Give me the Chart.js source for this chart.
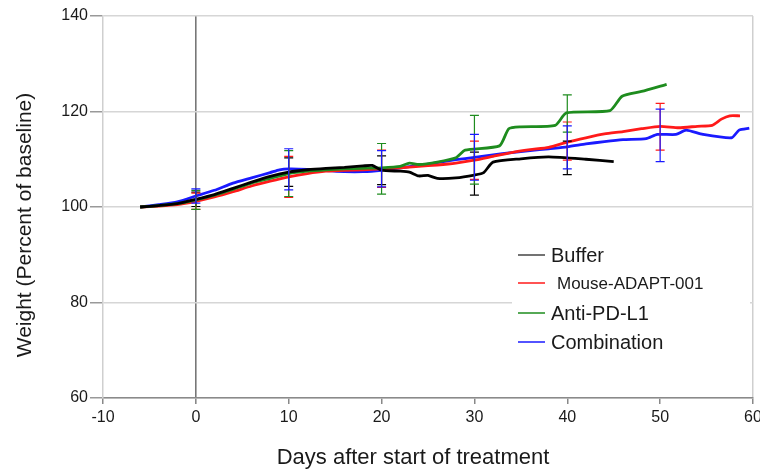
<!DOCTYPE html>
<html lang="en">
<head>
  <meta charset="UTF-8">
  <title>Weight after start of treatment</title>
  <script src="https://cdn.jsdelivr.net/npm/chart.js"></script>
  <style>
    html, body { margin: 0; padding: 0; background: #fff; }
    #wrap { width: 760px; height: 469px; }
  </style>
</head>
<body>
<div id="wrap"><canvas id="chart" width="760" height="469"></canvas></div>

<script>
// series data (days after start of treatment, weight in % of baseline)
const bufferDays   = [-6, -4, -2, 0, 2, 4, 6, 8, 10, 12, 14, 16, 18, 19, 20, 22, 23, 24, 25, 26, 28, 30, 31, 32, 35, 38, 42, 45];
const bufferValues = [100, 100.3, 100.7, 101.6, 102.6, 103.9, 105.2, 106.4, 107.3, 107.8, 108.1, 108.3, 108.6, 108.7, 107.7, 107.5, 107.3, 106.5, 106.6, 106.0, 106.1, 106.7, 107.2, 109.4, 110.1, 110.5, 110.0, 109.5];

const adaptDays   = [-6, -4, -2, 0, 2, 4, 6, 8, 10, 12, 14, 16, 18, 20, 22, 24, 26, 28, 30, 32, 34, 36, 38, 40, 42, 44, 46, 48, 50, 52, 54, 55.6, 56.6, 57.5, 58.6];
const adaptValues = [100, 100.2, 100.5, 101.2, 102.1, 103.2, 104.4, 105.4, 106.3, 107.0, 107.5, 107.7, 107.8, 108.0, 108.2, 108.5, 108.8, 109.2, 109.8, 110.6, 111.4, 112.0, 112.5, 113.6, 114.5, 115.3, 115.8, 116.4, 116.9, 116.6, 116.9, 117.1, 118.4, 119.1, 119.1];

const pdl1Days   = [-6, -4, -2, 0, 2, 4, 6, 8, 10, 12, 14, 16, 18, 20, 22, 23, 24, 26, 28, 29, 32.7, 33.7, 35, 38.7, 39.9, 44.6, 45.9, 48, 50.7];
const pdl1Values = [100, 100.3, 100.7, 101.5, 102.5, 103.7, 105.0, 106.0, 107.0, 107.5, 107.8, 108.0, 108.1, 108.2, 108.5, 109.2, 108.9, 109.4, 110.3, 111.9, 112.8, 116.4, 116.8, 117.1, 119.7, 120.2, 123.2, 124.2, 125.7];

const comboDays   = [-6, -4, -2, 0, 2, 4, 6, 8, 9, 10, 12, 14, 16, 18, 20, 22, 24, 26, 28, 30, 32, 34, 36, 38, 40, 42, 44, 46, 48.5, 49.7, 51.7, 52.8, 54.6, 57.7, 58.5, 59.6];
const comboValues = [100, 100.5, 101.1, 102.3, 103.5, 105.0, 106.1, 107.2, 107.8, 108.0, 107.9, 107.6, 107.4, 107.4, 107.7, 108.2, 108.7, 109.3, 109.9, 110.4, 110.9, 111.4, 111.8, 112.2, 112.6, 113.2, 113.7, 114.1, 114.3, 115.2, 115.2, 116.1, 115.2, 114.5, 116.1, 116.5];

// error bars: day, centre and half-width
const bufferErrDays = [0, 10, 20, 30, 40];
const bufferErrMean = [101.6, 107.3, 107.7, 107.0, 110.3];
const bufferErr     = [1.5, 3.0, 3.0, 4.5, 3.5];

const adaptErrDays = [0, 10, 20, 30, 40, 50];
const adaptErrMean = [101.2, 106.3, 108.0, 109.8, 113.8, 116.8];
const adaptErr     = [1.7, 4.3, 3.9, 4.0, 4.0, 4.9];

const pdl1ErrDays = [0, 10, 20, 30, 40];
const pdl1ErrMean = [101.5, 107.0, 108.0, 112.0, 119.6];
const pdl1Err     = [2.0, 4.8, 5.3, 7.2, 3.9];

const comboErrDays = [0, 10, 20, 30, 40, 50];
const comboErrMean = [102.3, 107.9, 108.0, 110.4, 112.5, 115.0];
const comboErr     = [1.5, 4.3, 3.8, 4.8, 4.5, 5.5];

const seriesLabels = ['Buffer', 'Mouse-ADAPT-001', 'Anti-PD-L1', 'Combination'];
const seriesColors = ['#000000', '#ff1a1a', '#1e8c1e', '#1a1aff'];
const legendColors = ['#444444', '#ff1a1a', '#1e8c1e', '#1a1aff'];
const xTitle = 'Days after start of treatment';
const yTitle = 'Weight (Percent of baseline)';

const FONT = "'Liberation Sans', Arial, sans-serif";
const TEXT = '#1a1a1a';

function pts(days, vals) { return days.map((d, i) => ({ x: d, y: vals[i] })); }

const errSets = [
  [bufferErrDays, bufferErrMean, bufferErr],
  [adaptErrDays, adaptErrMean, adaptErr],
  [pdl1ErrDays, pdl1ErrMean, pdl1Err],
  [comboErrDays, comboErrMean, comboErr]
];

// vertical error bars with caps, drawn through the chart scales
const errorBars = {
  id: 'errorBars',
  afterDatasetsDraw(chart) {
    const { ctx, scales: { x, y } } = chart;
    ctx.save();
    ctx.lineWidth = 1.2;
    errSets.forEach((s, k) => {
      ctx.strokeStyle = seriesColors[k];
      s[0].forEach((d, i) => {
        const px = x.getPixelForValue(d);
        const top = y.getPixelForValue(s[1][i] + s[2][i]);
        const bot = y.getPixelForValue(s[1][i] - s[2][i]);
        ctx.beginPath();
        ctx.moveTo(px, top); ctx.lineTo(px, bot);
        ctx.moveTo(px - 4.5, top); ctx.lineTo(px + 4.5, top);
        ctx.moveTo(px - 4.5, bot); ctx.lineTo(px + 4.5, bot);
        ctx.stroke();
      });
    });
    ctx.restore();
  }
};

// legend box inside the plot, and the two axis titles (set off-centre like the original)
const extras = {
  id: 'extras',
  afterDraw(chart) {
    const { ctx } = chart;
    ctx.save();
    ctx.fillStyle = '#fff';
    ctx.fillRect(512, 238, 238, 118);
    const rows = [255, 283, 313, 342];
    seriesLabels.forEach((lab, i) => {
      ctx.strokeStyle = legendColors[i];
      ctx.lineWidth = 1.5;
      ctx.beginPath();
      ctx.moveTo(518, rows[i]); ctx.lineTo(545, rows[i]);
      ctx.stroke();
      ctx.fillStyle = TEXT;
      ctx.textBaseline = 'middle';
      ctx.textAlign = 'left';
      ctx.font = (i === 1 ? '17px ' : '20px ') + FONT;
      ctx.fillText(lab, i === 1 ? 557 : 551, rows[i] + 1);
    });

    ctx.fillStyle = TEXT;
    ctx.textAlign = 'center';
    ctx.textBaseline = 'alphabetic';
    ctx.font = '22px ' + FONT;
    ctx.fillText(xTitle, 413, 464);

    ctx.translate(31, 225);
    ctx.rotate(-Math.PI / 2);
    ctx.font = '21px ' + FONT;
    ctx.fillText(yTitle, 0, 0);
    ctx.restore();
  }
};

const ctx = document.getElementById('chart').getContext('2d');
new Chart(ctx, {
  type: 'line',
  data: {
    datasets: [
      { label: seriesLabels[0], data: pts(bufferDays, bufferValues), borderColor: seriesColors[0], order: 1 },
      { label: seriesLabels[1], data: pts(adaptDays, adaptValues), borderColor: seriesColors[1], order: 3 },
      { label: seriesLabels[2], data: pts(pdl1Days, pdl1Values), borderColor: seriesColors[2], order: 2 },
      { label: seriesLabels[3], data: pts(comboDays, comboValues), borderColor: seriesColors[3], order: 4 }
    ]
  },
  options: {
    responsive: false,
    animation: false,
    datasets: { line: { borderWidth: 2.8, pointRadius: 0, tension: 0.2, fill: false } },
    layout: { padding: { left: 0, top: 16, right: 7, bottom: 0 } },
    plugins: { legend: { display: false }, tooltip: { enabled: false } },
    scales: {
      x: {
        type: 'linear', min: -10, max: 60,
        ticks: { stepSize: 10, color: TEXT, font: { family: FONT, size: 16 }, padding: 4 },
        grid: {
          color: c => c.tick.value === 0 ? '#777' : (c.tick.value === 60 ? '#cfcfcf' : 'transparent'),
          lineWidth: c => c.tick.value === 0 ? 1.6 : 1.5,
          tickColor: '#888', tickLength: 6
        },
        border: { color: '#8a8a8a', width: 1.5 },
        afterFit: s => { s.height = 71; s.paddingLeft = 0; s.paddingRight = 0; }
      },
      y: {
        min: 60, max: 140,
        ticks: { stepSize: 20, color: TEXT, font: { family: FONT, size: 16 }, padding: 2 },
        grid: { color: '#d6d6d6', lineWidth: 1.5, tickColor: '#999', tickLength: 13 },
        border: { color: '#cfcfcf', width: 1.5 },
        afterFit: s => { s.width = 103; s.paddingTop = 0; s.paddingBottom = 0; }
      }
    }
  },
  plugins: [errorBars, extras]
});
</script>
</body>
</html>
